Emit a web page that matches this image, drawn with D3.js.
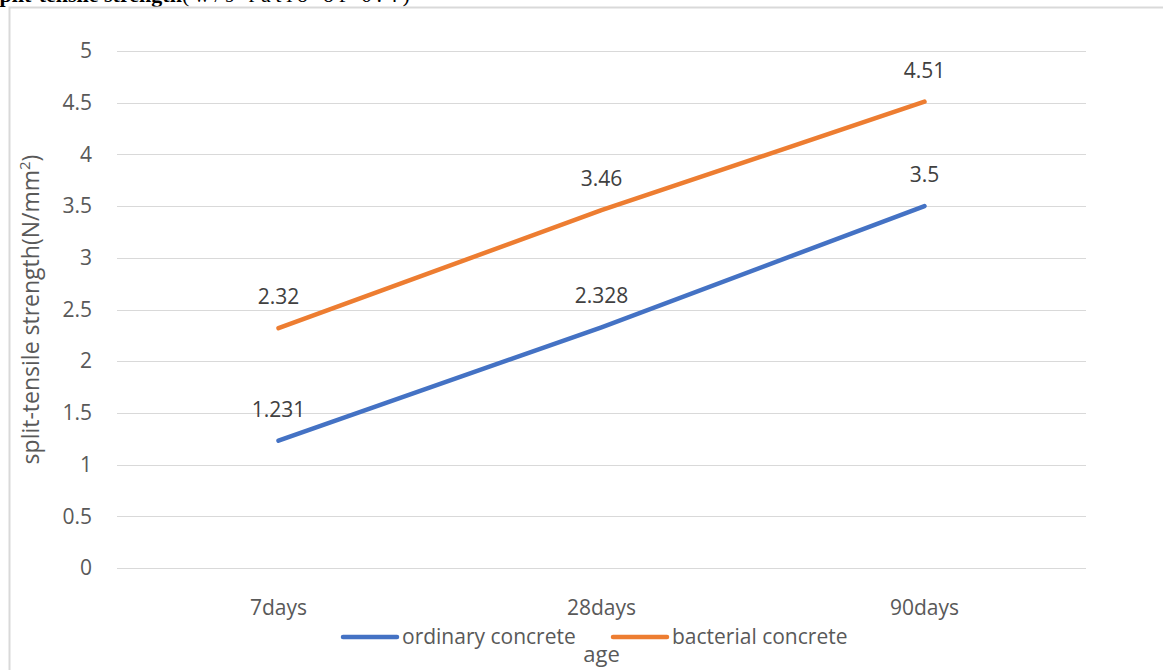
<!DOCTYPE html>
<html>
<head>
<meta charset="utf-8">
<script src="https://cdn.jsdelivr.net/npm/d3@7"></script>
<style>
  html, body { margin: 0; padding: 0; background: #fff; }
  svg { display: block; }
</style>
</head>
<body>
<svg id="chart" width="1163" height="670"></svg>
<script>
// Split-tensile strength by age, w/s ratio 0.4
const ages = ["7days", "28days", "90days"];
const ordinaryConcrete = [1.231, 2.328, 3.5];
const bacterialConcrete = [2.32, 3.46, 4.51];
const seriesNames = ["ordinary concrete", "bacterial concrete"];
const yTicks = [0, 0.5, 1, 1.5, 2, 2.5, 3, 3.5, 4, 4.5, 5];

const colors = ["#4472C4", "#ED7D31"];
const textColor = "#595959";
const font = "'Open Sans', 'Noto Sans', sans-serif";
const fs = 21;      // tick, data label and legend text
const titleFs = 23; // axis titles

const svg = d3.select("#chart");
const W = 1163, H = 670;
const plot = { left: 117, right: 1086, top: 51, bottom: 568 };

// Heading (partly above the frame)
const head = svg.append("text")
  .attr("x", -9).attr("y", 2)
  .attr("font-family", "'Liberation Serif', 'Times New Roman', serif")
  .attr("font-size", 22).attr("fill", "#000");
head.append("tspan").attr("font-weight", "bold").text("split-tensile strength");
head.append("tspan").text("(w/s ratio of 0.4)")
  .attr("textLength", 228).attr("lengthAdjust", "spacing");

// Chart frame
svg.append("path")
  .attr("d", `M9.5,${H} L9.5,7.5 L${W},7.5`)
  .attr("fill", "none").attr("stroke", "#d9d9d9").attr("stroke-width", 2);

const x = d3.scaleBand().domain(ages).range([plot.left, plot.right]);
const y = d3.scaleLinear().domain([0, 5]).range([plot.bottom, plot.top]);
const cx = d => x(d) + x.bandwidth() / 2;

// Gridlines
svg.append("g").selectAll("line").data(yTicks).join("line")
  .attr("x1", plot.left).attr("x2", plot.right)
  .attr("y1", d => Math.round(y(d)) + 0.5).attr("y2", d => Math.round(y(d)) + 0.5)
  .attr("stroke", "#d9d9d9").attr("stroke-width", 1);

// Y axis labels
const yAxis = svg.append("g")
  .attr("transform", `translate(${plot.left - 25},0)`)
  .call(d3.axisLeft(y).tickValues(yTicks).tickSize(0).tickPadding(0).tickFormat(d3.format("~g")));
yAxis.select(".domain").remove();
yAxis.selectAll("text").attr("font-family", font).attr("font-size", fs).attr("fill", textColor);

// X axis labels
const xAxis = svg.append("g")
  .attr("transform", `translate(0,${plot.bottom + 47})`)
  .call(d3.axisBottom(x).tickSize(0).tickPadding(0));
xAxis.select(".domain").remove();
xAxis.selectAll("text").attr("dy", 0)
  .attr("font-family", font).attr("font-size", fs).attr("fill", textColor);

// Axis titles
svg.append("text")
  .attr("transform", `translate(39,${(plot.top + plot.bottom) / 2}) rotate(-90)`)
  .attr("text-anchor", "middle")
  .attr("font-family", font).attr("font-size", titleFs).attr("fill", textColor)
  .html("split-tensile strength(N/mm<tspan dy='-9' font-size='15'>2</tspan><tspan dy='9'>)</tspan>");

svg.append("text")
  .attr("x", cx("28days")).attr("y", 662)
  .attr("text-anchor", "middle")
  .attr("font-family", font).attr("font-size", 22).attr("fill", textColor)
  .text("age");

// Lines and data labels
const line = d3.line().x((d, i) => cx(ages[i])).y(d => y(d));
[ordinaryConcrete, bacterialConcrete].forEach((vals, s) => {
  svg.append("path")
    .datum(vals)
    .attr("d", line)
    .attr("fill", "none")
    .attr("stroke", colors[s])
    .attr("stroke-width", 4.5)
    .attr("stroke-linecap", "round")
    .attr("stroke-linejoin", "round");
  svg.append("g").selectAll("text").data(vals).join("text")
    .attr("x", (d, i) => cx(ages[i]))
    .attr("y", d => y(d) - 24)
    .attr("text-anchor", "middle")
    .attr("font-family", font).attr("font-size", fs).attr("fill", "#404040")
    .text(d => d);
});

// Legend
const legendItems = [
  { name: seriesNames[0], color: colors[0], x: 343 },
  { name: seriesNames[1], color: colors[1], x: 613 }
];
const lg = svg.append("g");
legendItems.forEach(it => {
  lg.append("line")
    .attr("x1", it.x).attr("x2", it.x + 54)
    .attr("y1", 637).attr("y2", 637)
    .attr("stroke", it.color).attr("stroke-width", 4.5).attr("stroke-linecap", "round");
  lg.append("text")
    .attr("x", it.x + 59).attr("y", 644)
    .attr("font-family", font).attr("font-size", fs).attr("fill", textColor)
    .text(it.name);
});
</script>
</body>
</html>
